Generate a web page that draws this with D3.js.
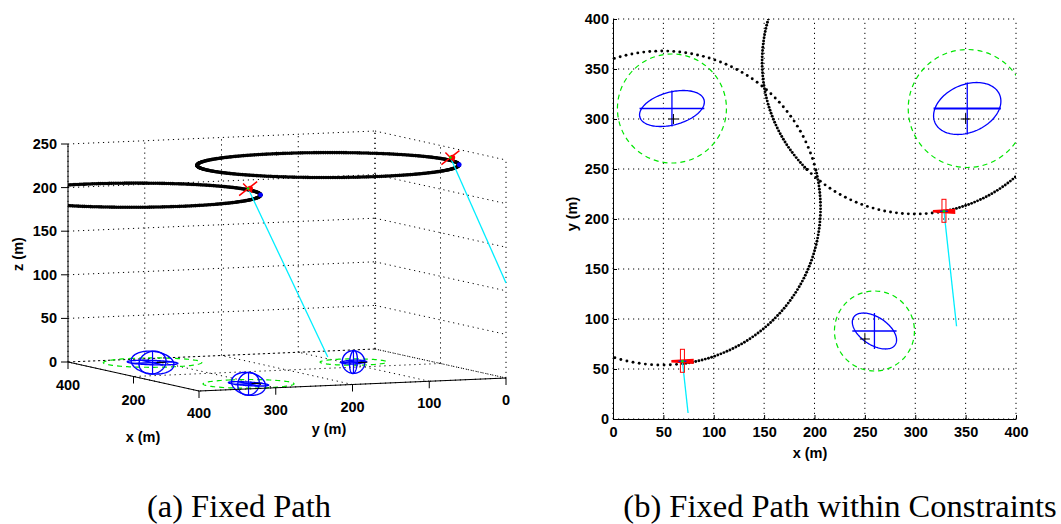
<!DOCTYPE html>
<html>
<head>
<meta charset="utf-8">
<script src="https://cdn.jsdelivr.net/npm/d3@7"></script>
<style>
body { margin: 0; background: #fff; }
svg { display: block; }
.lbl { font-family: "Liberation Sans", Arial, Helvetica, sans-serif; font-size: 14.5px; font-weight: 700; fill: #000; }
.cap { font-family: "Liberation Serif", "Times New Roman", Times, serif; font-size: 32.5px; font-weight: 400; fill: #000; }
</style>
</head>
<body>
<script>
// ---- scene data (metres) ----
const pathCenter = [[49, 211], [300, 357]];
const pathRadius = [157, 152];
const pathAlt = [248, 198];
// dotted path pieces in the top view: [fromDeg, toDeg, stepDeg]
const pathSegs2d = [
  [[112, 14, 2.2], [14, -82.6, 1.2], [-82.6, -112, 2.2]],
  [[160, 225, 1.2], [225, 280.8, 2.2], [280.8, 330, 1.2]]
];
const pathStart3d = [[-12, 66, 248], [241, 217, 198]];

const targetEst = [[58.5, 310.5], [351.6, 310.5], [259.5, 88]];
const targetTrue = [[60, 300], [350, 300], [250, 80]];
const ellA = [33, 35, 24.8];
const ellB = [16.4, 23.8, 13.8];
const ellTheta = [15, 24, -34];
const ellC = [13, 13, 13];
const constraintR = [54.5, 59, 40];

const plane2d = [[68.9, 57.7], [328.5, 207.7]];
const sensorEnd2d = [[74.5, 6], [341, 92.7]];
const plane3d = [[76, 40, 248], [321, 199, 198]];
const sensorEnd3d = [[0, 0, 109], [331, 91, 0]];

const ticks2d = d3.range(0, 401, 50);
const xTicks3d = [0, 200, 400];
const xLabels3d = [400, 200];
const yTicks3d = [0, 100, 200, 300, 400];
const zTicks3d = [0, 50, 100, 150, 200, 250];
const captions = ['(a) Fixed Path', '(b) Fixed Path within Constraints'];

const W = 1061, H = 524;
const BLUE = '#0000ff', GREEN = '#00e600', CYAN = '#00eeff', RED = '#ff0000';

const svg = d3.select('body').append('svg')
  .attr('width', W).attr('height', H);
svg.append('rect').attr('width', W).attr('height', H).attr('fill', '#fff');
const defs = svg.append('defs');

const rad = d => d * Math.PI / 180;
function arcPts(c, r, from, to, step) {
  const n = Math.round(Math.abs(to - from) / step);
  return d3.range(n + 1).map(i => {
    const t = rad(from + (to - from) * i / n);
    return [c[0] + r * Math.cos(t), c[1] + r * Math.sin(t)];
  });
}
function ellPts(c, a, b, th, n = 120) {
  const ct = Math.cos(rad(th)), st = Math.sin(rad(th));
  return d3.range(n + 1).map(i => {
    const t = 2 * Math.PI * i / n;
    const u = a * Math.cos(t), v = b * Math.sin(t);
    return [c[0] + u * ct - v * st, c[1] + u * st + v * ct];
  });
}
function ext(i) {
  const ct = Math.cos(rad(ellTheta[i])), st = Math.sin(rad(ellTheta[i]));
  const a = ellA[i], b = ellB[i];
  return [Math.sqrt(a * a * ct * ct + b * b * st * st), Math.sqrt(a * a * st * st + b * b * ct * ct)];
}
const grid = s => s.attr('stroke', '#000').attr('stroke-width', 1).attr('stroke-dasharray', '1.2,3.8');

// =================== (b) top view ===================
const sx = d3.scaleLinear().domain([0, 400]).range([613, 1016]);
const sy = d3.scaleLinear().domain([0, 400]).range([419, 19]);
const line2 = d3.line().x(d => sx(d[0])).y(d => sy(d[1]));

defs.append('clipPath').attr('id', 'clipB').append('rect')
  .attr('x', sx(0)).attr('y', sy(400)).attr('width', sx(400) - sx(0)).attr('height', sy(0) - sy(400));

const B = svg.append('g');
B.append('g').selectAll('line').data(ticks2d).join('line')
  .attr('x1', d => sx(d)).attr('x2', d => sx(d)).attr('y1', sy(0)).attr('y2', sy(400)).call(grid);
B.append('g').selectAll('line').data(ticks2d).join('line')
  .attr('y1', d => sy(d)).attr('y2', d => sy(d)).attr('x1', sx(0)).attr('x2', sx(400)).call(grid);

const Bc = B.append('g').attr('clip-path', 'url(#clipB)');
// constraint circles
Bc.selectAll('.con').data(targetEst).join('circle').attr('class', 'con')
  .attr('cx', d => sx(d[0])).attr('cy', d => sy(d[1])).attr('r', (d, i) => sy(0) - sy(constraintR[i]))
  .attr('fill', 'none').attr('stroke', GREEN).attr('stroke-width', 1.2).attr('stroke-dasharray', '5,4');
// error ellipses + crosshair
targetEst.forEach((c, i) => {
  Bc.append('path').attr('d', line2(ellPts(c, ellA[i], ellB[i], ellTheta[i])))
    .attr('fill', 'none').attr('stroke', BLUE).attr('stroke-width', 1.3);
  const [ex, ey] = ext(i);
  Bc.append('path').attr('d', line2([[c[0] - ex, c[1]], [c[0] + ex, c[1]]]))
    .attr('stroke', BLUE).attr('stroke-width', i === 1 ? 2 : 1.5);
  Bc.append('path').attr('d', line2([[c[0], c[1] - ey], [c[0], c[1] + ey]]))
    .attr('stroke', BLUE).attr('stroke-width', 1.3);
});
Bc.selectAll('.tt').data(targetTrue).join('path').attr('class', 'tt')
  .attr('d', d => `M${sx(d[0]) - 5},${sy(d[1])}h10M${sx(d[0])},${sy(d[1]) - 5}v10`)
  .attr('stroke', '#000').attr('stroke-width', 1);
// paths (dotted)
pathSegs2d.forEach((segs, k) => {
  const pts = segs.flatMap(s => arcPts(pathCenter[k], pathRadius[k], s[0], s[1], s[2]));
  Bc.append('g').selectAll('circle').data(pts).join('circle')
    .attr('cx', d => sx(d[0])).attr('cy', d => sy(d[1])).attr('r', 1.45).attr('fill', '#000');
});
// sensor lines + aircraft
plane2d.forEach((p, k) => {
  Bc.append('path').attr('d', line2([p, sensorEnd2d[k]])).attr('stroke', CYAN).attr('stroke-width', 1.3);
});
plane2d.forEach(p => {
  const g = Bc.append('g').attr('transform', `translate(${sx(p[0])},${sy(p[1])})`);
  g.append('rect').attr('x', -2).attr('y', -12).attr('width', 4).attr('height', 23)
    .attr('fill', 'none').attr('stroke', RED).attr('stroke-width', 1);
  g.append('path').attr('d', 'M-11,0L10,-1.2L10,1.2Z').attr('stroke', RED).attr('stroke-width', 2.6).attr('fill', RED);
  g.append('path').attr('d', 'M-4,0h8').attr('stroke', '#2020c0').attr('stroke-width', 1.5);
  g.append('circle').attr('r', 1.4).attr('fill', GREEN);
});

// axes
const axL = B.append('g').attr('transform', `translate(${sx(0)},0)`)
  .call(d3.axisLeft(sy).tickValues(ticks2d).tickSizeInner(-4).tickSizeOuter(0).tickPadding(4));
const axB = B.append('g').attr('transform', `translate(0,${sy(0)})`)
  .call(d3.axisBottom(sx).tickValues(ticks2d).tickSizeInner(-4).tickSizeOuter(0).tickPadding(8));
[axL, axB].forEach(a => {
  a.attr('font-family', null).attr('font-size', null);
  a.selectAll('path,line').attr('stroke', '#000');
  a.selectAll('text').attr('fill', null).attr('class', 'lbl');
});
B.append('text').attr('class', 'lbl').attr('x', 810).attr('y', 458).attr('text-anchor', 'middle').text('x (m)');
B.append('text').attr('class', 'lbl').attr('transform', 'translate(577,214) rotate(-90)')
  .attr('text-anchor', 'middle').text('y (m)');

// =================== (a) 3D view ===================
const o3 = [506, 378];
const kx = [d3.scaleLinear().domain([0, 400]).range([0, -131]), d3.scaleLinear().domain([0, 400]).range([0, -29])];
const ky = [d3.scaleLinear().domain([0, 400]).range([0, -307]), d3.scaleLinear().domain([0, 400]).range([0, 13])];
const kz = d3.scaleLinear().domain([0, 250]).range([0, -218]);
const P = d => [o3[0] + kx[0](d[0]) + ky[0](d[1]), o3[1] + kx[1](d[0]) + ky[1](d[1]) + kz(d[2])];
const line3 = d3.line().x(d => P(d)[0]).y(d => P(d)[1]);

const A = svg.append('g');
const seg3 = (g, a, b) => g.append('path').attr('d', line3([a, b]));

const Ag = A.append('g').attr('fill', 'none').call(grid);
zTicks3d.forEach(z => { seg3(Ag, [400, 400, z], [400, 0, z]); seg3(Ag, [400, 0, z], [0, 0, z]); });
yTicks3d.forEach(y => { seg3(Ag, [400, y, 0], [400, y, 250]); seg3(Ag, [0, y, 0], [400, y, 0]); });
xTicks3d.forEach(x => { seg3(Ag, [x, 0, 0], [x, 0, 250]); seg3(Ag, [x, 0, 0], [x, 400, 0]); });

defs.append('clipPath').attr('id', 'clipA').append('rect')
  .attr('x', P([400, 400, 0])[0]).attr('y', 100).attr('width', 445).attr('height', 330);
const Ac = A.append('g').attr('clip-path', 'url(#clipA)');

// ground: constraint circles, error ellipsoids, true positions
targetEst.forEach((c, i) => {
  const ring = arcPts(c, constraintR[i], 0, 360, 3).map(d => [d[0], d[1], 0]);
  Ac.append('path').attr('d', line3(ring)).attr('fill', 'none')
    .attr('stroke', GREEN).attr('stroke-width', 1.2).attr('stroke-dasharray', '5,4');
});
targetEst.forEach((c, i) => {
  const ct = Math.cos(rad(ellTheta[i])), st = Math.sin(rad(ellTheta[i]));
  const hor = ellPts(c, ellA[i], ellB[i], ellTheta[i]).map(d => [d[0], d[1], 0]);
  const ts = d3.range(0, 361, 3).map(rad);
  const va = ts.map(t => [c[0] + ellA[i] * Math.cos(t) * ct, c[1] + ellA[i] * Math.cos(t) * st, ellC[i] * Math.sin(t)]);
  const vb = ts.map(t => [c[0] - ellB[i] * Math.cos(t) * st, c[1] + ellB[i] * Math.cos(t) * ct, ellC[i] * Math.sin(t)]);
  [hor, va, vb].forEach(pts => Ac.append('path').attr('d', line3(pts)).attr('fill', 'none')
    .attr('stroke', BLUE).attr('stroke-width', 1.4));
  const [ex, ey] = ext(i);
  Ac.append('path').attr('d', line3([[c[0] - ex, c[1], 0], [c[0] + ex, c[1], 0]])).attr('stroke', BLUE).attr('stroke-width', 1.6);
  Ac.append('path').attr('d', line3([[c[0], c[1] - ey, 0], [c[0], c[1] + ey, 0]])).attr('stroke', BLUE).attr('stroke-width', 1.4);
  Ac.append('path').attr('d', line3([[c[0], c[1], -ellC[i]], [c[0], c[1], ellC[i]]])).attr('stroke', BLUE).attr('stroke-width', 1.2);
});
targetTrue.forEach(t => {
  Ac.append('path').attr('d', line3([[t[0] - 6, t[1], 0], [t[0] + 6, t[1], 0]]) + line3([[t[0], t[1] - 6, 0], [t[0], t[1] + 6, 0]]))
    .attr('stroke', '#000').attr('stroke-width', 1);
});

// loiter paths
pathCenter.forEach((c, k) => {
  const pts = arcPts(c, pathRadius[k], 0, 360, 1).map(d => [d[0], d[1], pathAlt[k]]);
  Ac.append('g').selectAll('circle').data(pts).join('circle')
    .attr('cx', d => P(d)[0]).attr('cy', d => P(d)[1]).attr('r', 1.8).attr('fill', '#000');
});
Ac.selectAll('.st').data(pathStart3d).join('circle').attr('class', 'st')
  .attr('cx', d => P(d)[0]).attr('cy', d => P(d)[1]).attr('r', 2.4).attr('fill', BLUE);
// sensor lines + aircraft
plane3d.forEach((p, k) => {
  Ac.append('path').attr('d', line3([p, sensorEnd3d[k]])).attr('stroke', CYAN).attr('stroke-width', 1.3);
});
plane3d.forEach(p => {
  const [x, y] = P(p);
  const g = Ac.append('g').attr('transform', `translate(${x},${y})`);
  g.append('path').attr('d', 'M-9,7L9,-7M-5,-5L4,4').attr('stroke', RED).attr('stroke-width', 1.5);
  g.append('circle').attr('cx', 2).attr('r', 2.8).attr('fill', RED);
  g.append('circle').attr('r', 1.3).attr('fill', GREEN);
});

// axes lines, ticks, labels
const Ax = A.append('g').attr('stroke', '#000').attr('stroke-width', 1).attr('fill', 'none');
seg3(Ax, [400, 400, 0], [400, 400, 250]);
seg3(Ax, [400, 400, 0], [0, 400, 0]);
seg3(Ax, [0, 400, 0], [0, 0, 0]);
zTicks3d.forEach(z => { const q = P([400, 400, z]); Ax.append('path').attr('d', `M${q[0]},${q[1]}h-7`); });
xLabels3d.forEach(x => { const q = P([x, 400, 0]); Ax.append('path').attr('d', `M${q[0]},${q[1]}v7`); });
yTicks3d.forEach(y => { const q = P([0, y, 0]); Ax.append('path').attr('d', `M${q[0]},${q[1]}v7`); });

const lab = A.append('g');
zTicks3d.forEach(z => {
  const q = P([400, 400, z]);
  lab.append('text').attr('class', 'lbl').attr('x', q[0] - 11).attr('y', q[1]).attr('dy', '0.35em')
    .attr('text-anchor', 'end').text(z);
});
xLabels3d.forEach(x => {
  const q = P([x, 400, 0]);
  lab.append('text').attr('class', 'lbl').attr('x', q[0]).attr('y', q[1] + 28).attr('text-anchor', 'middle').text(x);
});
yTicks3d.forEach(y => {
  const q = P([0, y, 0]);
  lab.append('text').attr('class', 'lbl').attr('x', q[0]).attr('y', q[1] + 27).attr('text-anchor', 'middle').text(y);
});
lab.append('text').attr('class', 'lbl').attr('x', 143).attr('y', 442).attr('text-anchor', 'middle').text('x (m)');
lab.append('text').attr('class', 'lbl').attr('x', 329).attr('y', 434).attr('text-anchor', 'middle').text('y (m)');
lab.append('text').attr('class', 'lbl').attr('transform', 'translate(23,254) rotate(-90)')
  .attr('text-anchor', 'middle').text('z (m)');

// captions
svg.selectAll('.cap').data(captions).join('text').attr('class', 'cap')
  .attr('x', (d, i) => [239, 840][i]).attr('y', 517).attr('text-anchor', 'middle')
  .text(d => d);
</script>
</body>
</html>
